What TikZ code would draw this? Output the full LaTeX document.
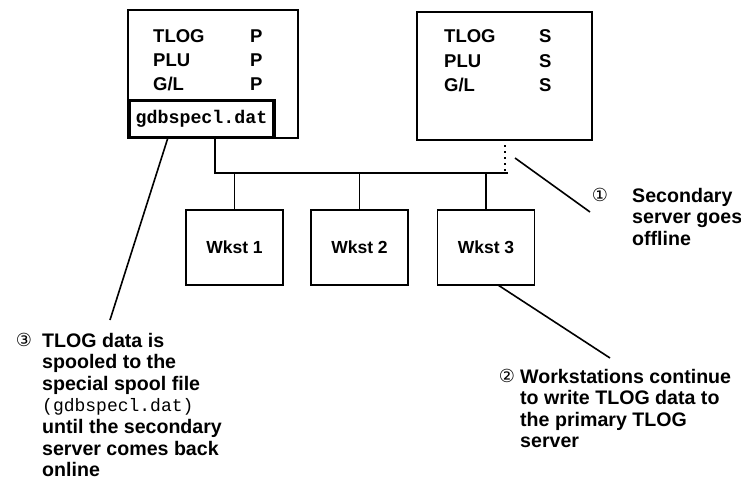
\documentclass[tikz,border=0pt]{standalone}
\usepackage{fontspec}
\setmainfont{Liberation Sans}
\setmonofont{Liberation Mono}
\newfontfamily\symfont{DejaVu Sans}
\begin{document}
\begin{tikzpicture}[x=1pt,y=-1pt,
  box/.style={draw,line width=1.8pt,inner sep=0pt,outer sep=0pt},
  wkst/.style={box,minimum width=97,minimum height=75,font=\bfseries\fontsize{17.5}{17.5}\selectfont},
  wire/.style={line width=1.8pt},
  leader/.style={line width=1.6pt},
  tbl/.style={anchor=base west,inner sep=0pt,font=\bfseries\fontsize{18.5}{18.5}\selectfont},
  num/.style={inner sep=0pt,font=\symfont\fontsize{18}{18}\selectfont},
  note/.style={anchor=north west,inner sep=0pt,align=left,font=\bfseries\fontsize{19.6}{21.6}\selectfont}]
\useasboundingbox (0,0) rectangle (741,487);

% servers
\node[box,anchor=north west,minimum width=170,minimum height=128] (prim) at (128,10) {};
\node[box,anchor=north west,minimum width=175,minimum height=128] (sec) at (417,12) {};
\node[draw,line width=3.5pt,anchor=north west,minimum width=145,minimum height=37,inner sep=0pt,outer sep=0pt,
      font=\ttfamily\bfseries\fontsize{18.3}{18.3}\selectfont] (spool) at (129,100.5) {gdbspecl.dat};

% server tables
\foreach \y/\a/\b [count=\i] in {42/TLOG/P,66.5/PLU/P,90/G\slash L/P}{
  \node[tbl] (pa\i) at (153,\y) {\a};
  \node[tbl] (pb\i) at (250,\y) {\b};
}
\foreach \y/\a/\b [count=\i] in {43/TLOG/S,67.5/PLU/S,91/G\slash L/S}{
  \node[tbl] (sa\i) at (444,\y) {\a};
  \node[tbl] (sb\i) at (539,\y) {\b};
}

% workstations
\node[wkst] (w1) at (234.5,247.5) {Wkst 1};
\node[wkst] (w2) at (359.5,247.5) {Wkst 2};
\node[wkst] (w3) at (486,247.5) {Wkst 3};

% network bus
\coordinate (busL) at (215,173);
\coordinate (busR) at (508,173);
\draw[wire] (prim.south -| busL) -- (busL) -- (busR);
\foreach \w in {w1,w2,w3}
  \draw[wire] (\w.north) -- (\w.north |- busL);
\draw[line width=2pt,dash pattern=on 2pt off 4pt] (sec.south -| 505,0) ++(0,5) -- (505,171);

% callouts
\coordinate (c1) at (590,212);
\coordinate (c2) at (610,358);
\coordinate (c3) at (110,320);
\draw[leader] (515,158) -- (c1);
\draw[leader] (w3.south -| 498,0) -- (c2);
\draw[leader] (spool.south -| 168,0) -- (c3);

\node[num] (n1) at (600,195) {①};
\node[note] (t1) at (632,187.7) {Secondary\\server goes\\offline};

\node[num] (n2) at (507,376) {②};
\node[note] (t2) at (520,368.7) {Workstations continue\\to write TLOG data to\\the primary TLOG\\server};

\node[num] (n3) at (24,340) {③};
\node[note] (t3) at (42,332.7) {TLOG data is\\spooled to the\\special spool file\\{\mdseries\ttfamily\fontsize{18}{18}\selectfont(gdbspecl.dat)}\\until the secondary\\server comes back\\online};
\end{tikzpicture}
\end{document}
